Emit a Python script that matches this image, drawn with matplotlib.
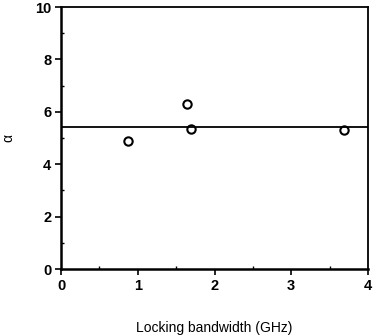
import matplotlib
matplotlib.use("Agg")
import matplotlib.pyplot as plt
import numpy as np

# data
bandwidth = [0.87, 1.64, 1.69, 3.69]   # GHz
alpha = [4.90, 6.30, 5.34, 5.31]
alpha_mean = 5.43

plt.rcParams["font.family"] = ["Liberation Sans", "DejaVu Sans"]

fig = plt.figure(figsize=(3.75, 3.35), dpi=100)
ax = fig.add_axes([0.163, 0.197, 0.818, 0.782])

ax.plot(bandwidth, alpha, "o", mfc="white", mec="black", mew=1.5, ms=6)
ax.axhline(alpha_mean, color="black", lw=1.3)

ax.set_xlim(0, 4)
ax.set_ylim(0, 10)
ax.set_xticks([0, 1, 2, 3, 4])
ax.set_yticks([0, 2, 4, 6, 8, 10])
ax.set_xticks(np.arange(0.5, 4, 1), minor=True)
ax.set_yticks(np.arange(1, 10, 2), minor=True)
ax.tick_params(which="major", direction="out", length=4, width=1.2, labelsize=10.5, pad=3)
ax.tick_params(which="minor", direction="in", length=2.5, width=1)
for lab in ax.get_xticklabels() + ax.get_yticklabels():
    lab.set_fontweight("bold")
for s in ax.spines.values():
    s.set_linewidth(1.3)
ax.spines["left"].set_linewidth(1.8)
ax.spines["bottom"].set_linewidth(1.8)

ax.set_xlabel("Locking bandwidth (GHz)", fontsize=10, labelpad=20)
ax.set_ylabel("\u03b1", fontsize=10, rotation=90)
ax.yaxis.set_label_coords(-0.15, 0.5)

fig.savefig("out.png", dpi=100)
